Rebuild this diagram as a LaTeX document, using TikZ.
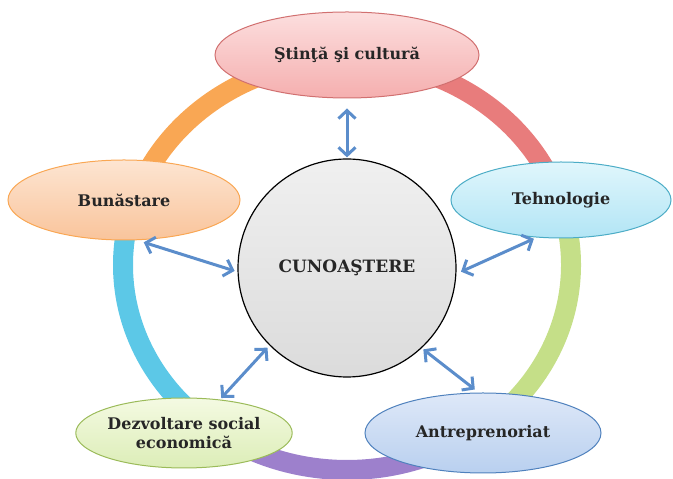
\documentclass[tikz,border=0pt]{standalone}
\usepackage{fontspec}
\setmainfont{DejaVu Serif}
\usetikzlibrary{shapes.geometric,arrows.meta}
\definecolor{arrblue}{HTML}{5B8DCB}
\definecolor{ringorange}{HTML}{F9A754}
\definecolor{ringred}{HTML}{E87C7C}
\definecolor{ringgreen}{HTML}{C5DF88}
\definecolor{ringpurple}{HTML}{9D80CC}
\definecolor{ringcyan}{HTML}{5CC8E7}
\tikzset{
  lbl/.style={ellipse, inner sep=0pt, line width=1pt, font=\bfseries\fontsize{16}{19}\selectfont, align=center, text=black!85},
  ringseg/.style={line width=20pt},
  arr/.style={draw=arrblue, line width=3pt, {Straight Barb[length=8pt,width=17pt,line width=3pt]}-{Straight Barb[length=8pt,width=17pt,line width=3pt]}}
}
\begin{document}
\begin{tikzpicture}[x=1pt,y=1pt]
\useasboundingbox (0,0) rectangle (673,479);
% ring
\def\rcx{347}\def\rcy{214}
\draw[ringseg, ringorange] (\rcx,\rcy) ++(90:224 and 205) arc[start angle=90, end angle=172, x radius=224, y radius=205];
\draw[ringseg, ringred] (\rcx,\rcy) ++(19:224 and 205) arc[start angle=19, end angle=90, x radius=224, y radius=205];
\draw[ringseg, ringgreen] (\rcx,\rcy) ++(-55:224 and 205) arc[start angle=-55, end angle=19, x radius=224, y radius=205];
\draw[ringseg, ringpurple] (\rcx,\rcy) ++(228:224 and 205) arc[start angle=228, end angle=305, x radius=224, y radius=205];
\draw[ringseg, ringcyan] (\rcx,\rcy) ++(172:224 and 205) arc[start angle=172, end angle=228, x radius=224, y radius=205];
% nodes
\node[circle, draw=black, line width=1.2pt, minimum size=218pt, inner sep=0pt, top color=gray!12, bottom color=gray!28, font=\bfseries\fontsize{17}{20}\selectfont, text=black!85] (c) at (347,211) {CUNOAŞTERE};
\node[lbl, draw=ringred!90!black, top color={rgb,255:red,252;green,222;blue,222}, bottom color={rgb,255:red,245;green,175;blue,175}, minimum width=264pt, minimum height=86pt] (s) at (347,424) {Ştinţă şi cultură};
\node[lbl, draw=ringorange, top color={rgb,255:red,253;green,229;blue,210}, bottom color={rgb,255:red,249;green,196;blue,155}, minimum width=232pt, minimum height=80pt] (b) at (124,279) {Bunăstare};
\node[lbl, draw={rgb,255:red,75;green,172;blue,198}, top color={rgb,255:red,224;green,246;blue,252}, bottom color={rgb,255:red,178;green,229;blue,245}, minimum width=220pt, minimum height=76pt] (t) at (561,279) {Tehnologie};
\node[lbl, draw={rgb,255:red,155;green,187;blue,89}, top color={rgb,255:red,244;green,250;blue,226}, bottom color={rgb,255:red,220;green,237;blue,183}, minimum width=214pt, minimum height=70pt] (d) at (184,46) {Dezvoltare social\\economică};
\node[lbl, draw={rgb,255:red,79;green,129;blue,189}, top color={rgb,255:red,222;green,232;blue,248}, bottom color={rgb,255:red,185;green,208;blue,239}, minimum width=236pt, minimum height=80pt] (a) at (483,46) {Antreprenoriat};
% arrows
\draw[arr, shorten <=10pt, shorten >=1pt] (s.south) -- (c.north);
\draw[arr, shorten <=7pt, shorten >=3pt] (b.-72) -- (c.182);
\draw[arr, shorten <=3pt, shorten >=5pt] (t.237) -- (c.-3);
\draw[arr, shorten <=2pt, shorten >=3pt] (d.43) -- (c.225);
\draw[arr, shorten <=5pt, shorten >=2pt] (a.96) -- (c.-47);
\end{tikzpicture}
\end{document}
